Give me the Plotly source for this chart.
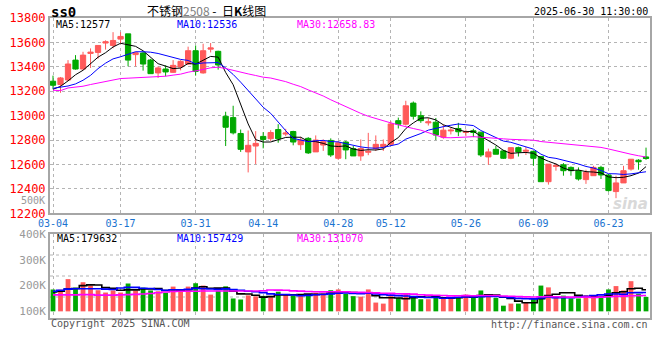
import plotly.graph_objects as go
import pandas as pd

# ---------------- data ----------------
tick_idx = [0, 9, 19, 28, 38, 45, 55, 64, 74]
tick_labels = ['03-04', '03-17', '03-31', '04-14', '04-28', '05-12', '05-26', '06-09', '06-23']

opens = [13282, 13255, 13292, 13455, 13382, 13510, 13518, 13595, 13575, 13627,
         13670, 13500, 13513, 13456, 13350, 13382, 13355, 13399, 13423, 13532,
         13350, 13545, 13527, 12995, 12984, 12854, 12703, 12751, 12830, 12811,
         12886, 12849, 12870, 12762, 12814, 12703, 12759, 12797, 12651, 12784,
         12730, 12670, 12700, 12730, 12746, 12765, 12959, 12930, 13103, 13000,
         12941, 12946, 12824, 12875, 12895, 12862, 12876, 12865, 12662, 12724,
         12711, 12651, 12738, 12708, 12708, 12665, 12459, 12584, 12597, 12576,
         12549, 12476, 12508, 12576, 12514, 12378, 12449, 12562, 12635, 12662]
highs = [13328, 13317, 13455, 13496, 13523, 13551, 13575, 13617, 13684, 13684,
         13670, 13523, 13523, 13465, 13404, 13412, 13455, 13455, 13565, 13575,
         13589, 13595, 13532, 13032, 13081, 12886, 12878, 12873, 12865, 12881,
         12930, 12892, 12876, 12827, 12824, 12838, 12805, 12814, 12792, 12792,
         12751, 12805, 12859, 12838, 12805, 12954, 12984, 13122, 13116, 13035,
         12981, 12981, 12927, 12900, 12941, 12886, 12892, 12865, 12730, 12751,
         12720, 12738, 12746, 12743, 12711, 12670, 12603, 12608, 12611, 12584,
         12576, 12557, 12589, 12589, 12522, 12508, 12589, 12643, 12643, 12738]
lows = [13216, 13187, 13282, 13377, 13377, 13391, 13467, 13541, 13552, 13591,
        13404, 13404, 13369, 13344, 13309, 13322, 13350, 13371, 13415, 13328,
        13344, 13518, 13377, 12751, 12846, 12703, 12535, 12603, 12732, 12792,
        12778, 12832, 12757, 12719, 12686, 12703, 12711, 12662, 12638, 12643,
        12670, 12630, 12676, 12711, 12711, 12757, 12895, 12919, 12968, 12941,
        12919, 12800, 12811, 12846, 12832, 12832, 12824, 12662, 12597, 12684,
        12645, 12643, 12665, 12678, 12589, 12459, 12435, 12549, 12508, 12508,
        12468, 12441, 12508, 12481, 12378, 12324, 12449, 12549, 12557, 12638]
closes = [13249, 13309, 13423, 13382, 13496, 13520, 13575, 13605, 13616, 13649,
          13455, 13515, 13423, 13344, 13391, 13358, 13412, 13445, 13532, 13363,
          13532, 13555, 13415, 12905, 12859, 12724, 12757, 12773, 12805, 12862,
          12811, 12857, 12784, 12800, 12695, 12800, 12786, 12678, 12778, 12719,
          12670, 12730, 12708, 12765, 12765, 12932, 12930, 13081, 12995, 12959,
          12949, 12841, 12881, 12881, 12868, 12870, 12862, 12678, 12703, 12684,
          12651, 12738, 12703, 12716, 12651, 12459, 12603, 12592, 12549, 12549,
          12481, 12535, 12576, 12514, 12386, 12449, 12549, 12643, 12622, 12649]
volumes = [184800, 184000, 225000, 192000, 213000, 200000, 182000, 173000, 181000, 173000,
           208000, 181000, 192000, 181000, 178000, 172000, 196000, 177000, 196000, 209000,
           200000, 165000, 180000, 197000, 150000, 146000, 162000, 158000, 160000, 160000,
           176000, 166000, 161000, 165000, 166000, 172000, 169000, 182000, 185000, 168000,
           159000, 157000, 185000, 134000, 130000, 159000, 152000, 169000, 157000, 147000,
           147000, 161000, 151000, 151000, 155000, 165000, 154000, 181000, 165000, 152000,
           122000, 130000, 130000, 134000, 150000, 200000, 193000, 156000, 161000, 150000,
           150000, 163000, 159000, 156000, 185000, 198000, 181000, 217000, 168000, 156000]

# moving-average values before enough visible bars exist
ma5_head = [13216, 13240, 13285, 13335]
ma10_head = [13224, 13232, 13243, 13260, 13290, 13330, 13385, 13430, 13465]
ma30_head = [13208, 13205, 13227, 13233, 13241, 13255, 13268, 13279, 13296, 13304,
             13307, 13310, 13312, 13315, 13318, 13323, 13332, 13340, 13356, 13364,
             13378, 13392, 13397, 13386, 13370, 13356, 13342, 13329, 13315]
vma5_head = [175600, 178200, 186000, 188700]
vma10_head = [178200, 182000, 186000, 187400, 187400, 187400, 187400, 186000, 184800]
vma30_head = [164000, 164000, 164000, 164000, 165000, 165000, 163000, 163000, 163000, 164000,
              165000, 166000, 167000, 169000, 172000, 175000, 177000, 178000, 178000, 178000,
              179000, 179000, 179000, 179000, 179000, 179000, 179000, 179000, 180000]

price_ticks = [12200, 12400, 12600, 12800, 13000, 13200, 13400, 13600, 13800]
vol_ticks = [100000, 200000, 300000, 400000]
vol_tick_labels = ['100K', '200K', '300K', '400K']
VOL_BASE = 100000

# ---------------- styling ----------------
RED = '#ff5a5a'
GREEN = '#00a800'
BLUE_TXT = '#1a73d0'
GRID = '#b4b4b4'
FRAME = '#a6a6a6'
MONO = 'DejaVu Sans Mono'

n = len(closes)
idx = list(range(n))


def moving(values, w, head):
    s = pd.Series(values, dtype=float).rolling(w).mean().tolist()
    return list(head) + s[len(head):]


ma5 = moving(closes, 5, ma5_head)
ma10 = moving(closes, 10, ma10_head)
ma30 = moving(closes, 30, ma30_head)
vma5 = moving(volumes, 5, vma5_head)
vma10 = moving(volumes, 10, vma10_head)
vma30 = moving(volumes, 30, vma30_head)

bar_colors = [RED if c >= o else GREEN for o, c in zip(opens, closes)]

fig = go.Figure()
fig.add_trace(go.Candlestick(
    x=idx, open=opens, high=highs, low=lows, close=closes,
    increasing=dict(line=dict(color=RED, width=1), fillcolor=RED),
    decreasing=dict(line=dict(color=GREEN, width=1), fillcolor=GREEN),
    whiskerwidth=0, xaxis='x', yaxis='y', hoverinfo='skip'))
for vals, col in [(ma5, '#000000'), (ma10, '#0000ff'), (ma30, '#ff00ff')]:
    fig.add_trace(go.Scatter(x=idx, y=vals, mode='lines', line=dict(color=col, width=1),
                             xaxis='x', yaxis='y', hoverinfo='skip'))

fig.add_trace(go.Bar(x=idx, y=[v - VOL_BASE for v in volumes], base=VOL_BASE,
                     marker=dict(color=bar_colors, line=dict(width=0)), width=0.64,
                     xaxis='x2', yaxis='y2', hoverinfo='skip'))
for vals, col in [(vma5, '#000000'), (vma10, '#0000ff'), (vma30, '#ff00ff')]:
    fig.add_trace(go.Scatter(x=idx, y=vals, mode='lines', line=dict(color=col, width=1.6, shape='hvh'),
                             xaxis='x2', yaxis='y2', hoverinfo='skip'))

W, H, L, R, T, B = 660, 360, 50, 10, 18, 42
PW, PH = W - L - R, H - T - B


def px(xp):
    return (xp - L) / PW


def py(yp):
    return (H - B - yp) / PH


axis_common = dict(showline=True, mirror=True, linecolor=FRAME, linewidth=2, automargin=False,
                   gridcolor=GRID, griddash='dot', gridwidth=1, zeroline=False, ticks='')

fig.update_layout(
    width=W, height=H, margin=dict(l=L, r=R, t=T, b=B, autoexpand=False),
    paper_bgcolor='white', plot_bgcolor='white', showlegend=False,
    boxgap=0.3, boxgroupgap=0, hovermode=False,
    xaxis=dict(domain=[0, 1], anchor='y', range=[-0.4, 79.53], tickvals=tick_idx, ticktext=tick_labels,
               tickfont=dict(family=MONO, size=10, color=BLUE_TXT), showgrid=True,
               rangeslider=dict(visible=False), **axis_common),
    yaxis=dict(domain=[py(213.3), 1], anchor='x', range=[12200, 13800], tickvals=price_ticks,
               ticktext=[str(v) for v in price_ticks],
               tickfont=dict(family=MONO, size=12, color='#ff0000'), showgrid=True, **axis_common),
    xaxis2=dict(domain=[0, 1], anchor='y2', matches='x', tickvals=tick_idx, showticklabels=False,
                showgrid=True, **axis_common),
    yaxis2=dict(domain=[0, py(234)], anchor='x2', range=[74200, 400000], tickvals=vol_ticks,
                ticktext=vol_tick_labels, tickfont=dict(family=MONO, size=11, color='#999999'),
                showgrid=False, **axis_common),
)

# dotted horizontal grid of the volume panel
for f in [0.25, 0.5, 0.75]:
    fig.add_shape(type='line', xref='x2 domain', yref='y2 domain', x0=0, x1=1, y0=f, y1=f,
                  line=dict(color=GRID, width=1, dash='dot'), layer='below')

ann = []


def text(t, x, y, xanchor='left', size=10, color='#000000', family=MONO, **kw):
    ann.append(dict(text=t, x=px(x), y=py(y), xref='paper', yref='paper', xanchor=xanchor,
                    yanchor='middle', showarrow=False, font=dict(size=size, color=color, family=family), **kw))


text('<b>ss0</b>', 49, 12, size=14)
text('不锈钢<span style="color:#808080">2508</span> -  日<b>K</b>线图', 206, 11, xanchor='center',
     size=12, family='Noto Sans CJK SC')
text('2025-06-30 11:30:00', 650, 12, xanchor='right', size=10)
text('MA5:%d' % 12577, 54, 24, size=10, color='#000000')
text('MA10:%d' % 12536, 175, 24, size=10, color='#0000ff')
text('MA30:%.2f' % 12658.83, 295, 24, size=10, color='#ff00ff')
text('MA5:%d' % 179632, 54.7, 238, size=10, color='#000000')
text('MA10:%d' % 157429, 174.7, 238, size=10, color='#0000ff')
text('MA30:%d' % 131070, 294.7, 238, size=10, color='#ff00ff')
text('500K', 47, 200.5, xanchor='right', size=10, color='#999999')
text('Copyright 2025 SINA.COM', 49, 323, size=10, color='#555555')
text('http://finance.sina.com.cn', 650, 324, xanchor='right', size=10, color='#555555')
text('<i><b>sina</b></i>', 650, 204, xanchor='right', size=15, color='#d9d9d9', family='DejaVu Sans')
fig.update_layout(annotations=ann)

fig.write_html('out.html', config={'displayModeBar': False, 'staticPlot': True},
               post_script="document.body.style.margin='0px';document.body.style.padding='0px';")
